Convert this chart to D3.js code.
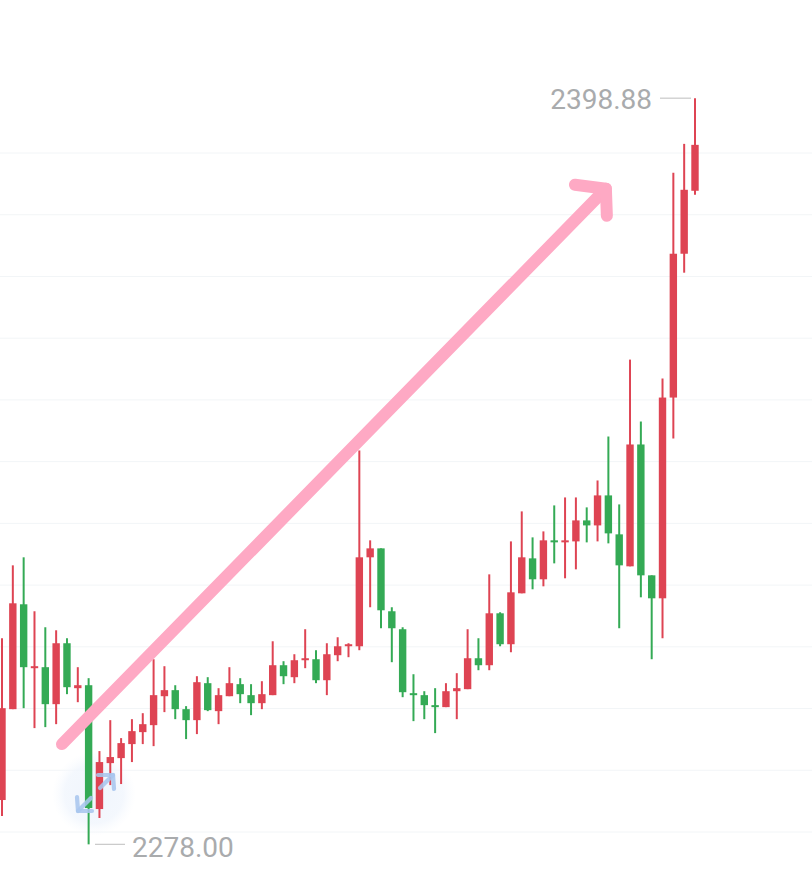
<!DOCTYPE html>
<html><head><meta charset="utf-8">
<style>html,body{margin:0;padding:0;background:#fff}svg{display:block}</style>
<script src="https://cdnjs.cloudflare.com/ajax/libs/d3/7.8.5/d3.min.js"></script>
</head><body><svg id="c" width="812" height="874"></svg>
<script>
const highs=[2311.39,2323.20,2324.50,2315.76,2313.17,2312.68,2311.39,2306.70,2304.92,2293.11,2298.12,2295.21,2298.28,2299.25,2307.99,2306.86,2303.78,2300.39,2305.24,2305.08,2303.30,2306.70,2304.92,2303.95,2304.43,2310.90,2307.67,2308.80,2312.85,2309.45,2310.58,2311.55,2310.58,2341.81,2327.25,2325.95,2316.41,2313.17,2305.56,2302.81,2303.30,2304.11,2305.73,2312.85,2311.39,2321.74,2315.60,2327.08,2331.94,2327.73,2328.70,2332.91,2334.20,2334.20,2332.59,2336.95,2344.07,2333.07,2356.53,2346.50,2321.58,2353.46,2386.79,2391.48,2398.88];
const bodyTops=[2300.06,2317.05,2316.89,2306.86,2306.70,2310.58,2310.58,2303.78,2303.78,2291.33,2292.14,2294.40,2296.34,2297.47,2302.17,2302.98,2302.98,2299.90,2304.27,2304.11,2302.17,2304.11,2303.95,2302.17,2302.33,2307.02,2307.02,2307.83,2308.15,2307.99,2308.80,2310.09,2310.42,2324.50,2325.95,2325.95,2315.76,2312.85,2302.49,2302.17,2300.55,2302.81,2303.30,2308.15,2308.15,2315.43,2315.43,2318.83,2324.50,2324.33,2327.25,2327.25,2327.25,2330.48,2330.48,2334.53,2334.53,2328.22,2342.78,2342.78,2321.58,2350.38,2373.68,2384.04,2391.32];
const bodyBottoms=[2285.18,2299.90,2306.70,2306.54,2300.71,2300.71,2303.46,2303.30,2283.88,2283.72,2291.16,2291.97,2294.24,2296.18,2297.31,2302.00,2299.90,2298.12,2298.12,2299.74,2299.58,2302.00,2302.33,2300.87,2300.87,2302.17,2305.24,2305.08,2307.99,2304.59,2304.59,2308.64,2310.26,2310.09,2324.50,2315.92,2313.01,2302.65,2302.17,2300.55,2300.39,2300.23,2302.81,2303.14,2307.02,2307.02,2310.42,2310.42,2318.67,2320.94,2320.94,2327.08,2327.08,2327.08,2329.67,2329.67,2328.38,2323.20,2323.04,2321.58,2317.86,2317.86,2350.38,2373.68,2383.88];
const lows=[2282.59,2299.90,2300.06,2296.83,2296.99,2297.47,2302.33,2301.03,2278.00,2282.27,2287.60,2287.77,2291.33,2294.24,2293.91,2299.42,2298.28,2295.05,2295.86,2299.58,2297.47,2302.00,2300.87,2298.93,2299.90,2302.17,2303.95,2304.11,2306.54,2304.11,2302.17,2307.67,2308.32,2309.45,2316.41,2313.01,2307.51,2301.84,2297.96,2298.28,2296.02,2300.23,2298.28,2303.14,2306.21,2306.21,2310.09,2309.12,2318.67,2319.32,2319.80,2323.52,2321.10,2322.55,2326.92,2327.08,2326.76,2313.01,2323.04,2318.02,2307.99,2311.39,2343.75,2370.61,2383.23];
const directions=["up","up","down","up","down","up","down","up","down","up","up","up","up","up","up","up","down","down","up","down","up","up","down","down","up","up","down","up","up","down","up","up","up","up","up","down","down","down","down","down","down","up","up","up","down","up","down","up","up","down","up","down","up","up","down","up","down","down","up","down","down","up","up","up","up"];
const gridLevels=[2280,2290,2300,2310,2320,2330,2340,2350,2360,2370,2380,2390];
const maxLabel="2398.88", minLabel="2278.00";
const arrowShaft=[[5.54,2294.24],[55.77,2384.2]];
const arrowHead=[[52.91,2384.85],[55.77,2384.2],[55.86,2379.83]];

const W=812,H=874;
const x=d3.scaleLinear().domain([0,64]).range([2,695]);
const y=d3.scaleLinear().domain([2280,2390]).range([832,153]);
const svg=d3.select("#c");
const RED="#de4453",GREEN="#34aa55";
const col=d=>directions[d]==="up"?RED:GREEN;

svg.append("g").selectAll("line").data(gridLevels).join("line")
  .attr("x1",0).attr("x2",W).attr("y1",d=>y(d)).attr("y2",d=>y(d))
  .attr("stroke","#f2f5f7").attr("stroke-width",1);

// floating icon backdrop, behind the candles
const defs=svg.append("defs");
const rg=defs.append("radialGradient").attr("id","halo");
rg.append("stop").attr("offset","0%").attr("stop-color","#eef4fc").attr("stop-opacity",0.9);
rg.append("stop").attr("offset","70%").attr("stop-color","#f1f6fd").attr("stop-opacity",0.8);
rg.append("stop").attr("offset","100%").attr("stop-color","#f7fafe").attr("stop-opacity",0);
svg.append("circle").attr("cx",94).attr("cy",794).attr("r",42).attr("fill","url(#halo)");

const idx=d3.range(highs.length);
const g=svg.append("g");
g.selectAll("line").data(idx).join("line")
  .attr("x1",i=>x(i)).attr("x2",i=>x(i))
  .attr("y1",i=>y(highs[i])).attr("y2",i=>y(lows[i]))
  .attr("stroke",col).attr("stroke-width",2);
g.selectAll("rect").data(idx).join("rect")
  .attr("x",i=>x(i)-3.7).attr("width",7.4)
  .attr("y",i=>y(bodyTops[i]))
  .attr("height",i=>Math.max(2,y(bodyBottoms[i])-y(bodyTops[i])))
  .attr("fill",col);

// extreme labels
const lbl="#a9abad";
svg.append("line").attr("x1",660).attr("x2",691).attr("y1",y(2398.88)).attr("y2",y(2398.88)).attr("stroke","#c8c8c8").attr("stroke-width",1.2);
svg.append("text").attr("x",652).attr("y",y(2398.88)+11).attr("text-anchor","end").attr("font-family","Roboto").attr("font-size",28).attr("fill",lbl).text(maxLabel);
svg.append("line").attr("x1",95).attr("x2",125).attr("y1",y(2278)).attr("y2",y(2278)).attr("stroke","#c8c8c8").attr("stroke-width",1.2);
svg.append("text").attr("x",132).attr("y",y(2278)+12.5).attr("font-family","Roboto").attr("font-size",28).attr("fill",lbl).text(minLabel);

// floating icon glyph
const icon=svg.append("g");
const glyph=d3.line();
[[[77,797],[78,811],[92,811]],[[78,811],[91,798]],[[98,775],[113,775],[114,789]],[[113,775],[100,788]]].forEach(p=>{
  icon.append("path").attr("d",glyph(p)).attr("fill","none").attr("stroke","#a9c6ee").attr("stroke-width",4.2).attr("stroke-linecap","round").attr("stroke-linejoin","round").attr("opacity",0.88);
});

// arrow annotation
const arrow=d3.line().x(d=>x(d[0])).y(d=>y(d[1]));
[arrowShaft,arrowHead].forEach(p=>svg.append("path").attr("d",arrow(p)).attr("fill","none")
  .attr("stroke","#fea9c4").attr("stroke-width",12).attr("stroke-linecap","round").attr("stroke-linejoin","round"));
</script></body></html>
